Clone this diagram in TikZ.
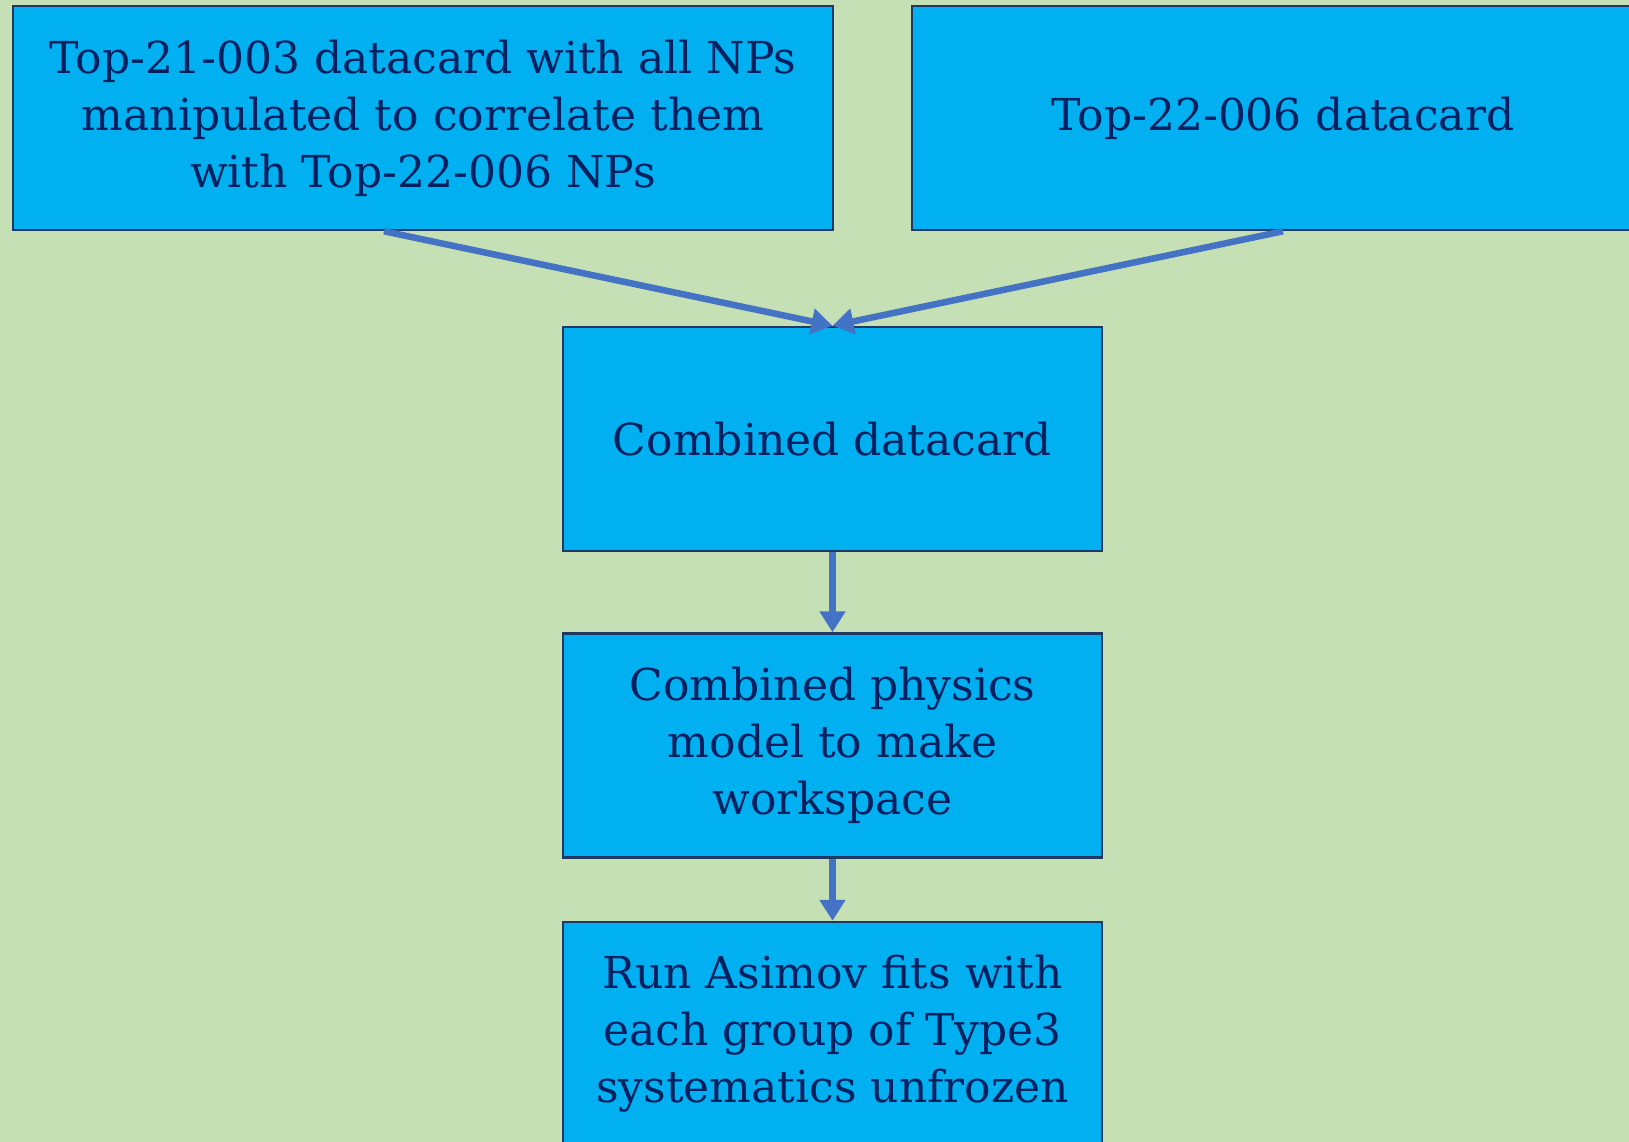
\documentclass[tikz,border=0pt]{standalone}
\usepackage{fontspec}
\setmainfont{DejaVu Serif}
\usetikzlibrary{shapes, arrows.meta, positioning}

\definecolor{bggreen}{HTML}{C5E0B4}
\definecolor{boxblue}{HTML}{00B0F0}
\definecolor{boxline}{HTML}{1F3864}
\definecolor{textnavy}{HTML}{002060}
\definecolor{arrowblue}{HTML}{4472C4}

\begin{document}
\begin{tikzpicture}[x=1pt, y=-1pt, node distance=80pt, auto]
\tikzset{
    flowbox/.style={rectangle, draw=boxline, fill=boxblue, line width=2.5pt, text=textnavy, minimum height=224pt, inner sep=0pt, align=center, font=\fontsize{44}{57}\selectfont},
    flowarrow/.style={-{Triangle[length=21pt,width=25pt]}, draw=arrowblue, line width=6.5pt}
}
\fill[bggreen] (0,0) rectangle (1629,1142);
\useasboundingbox (0,0) rectangle (1629,1142);
\node[flowbox, minimum width=820pt] (top21) at (423,118) {Top-21-003 datacard with all NPs\\manipulated to correlate them\\with Top-22-006 NPs};
\node[flowbox, minimum width=742pt] (top22) at (1283,118) {Top-22-006 datacard};
\node[flowbox, minimum width=539pt] (comb) at (832.5,439) {Combined datacard};
\node[flowbox, minimum width=539pt, below=80pt of comb] (phys) {Combined physics\\model to make\\workspace};
\node[flowbox, minimum width=539pt, below=62pt of phys] (run) {Run Asimov fits with\\each group of Type3\\systematics unfrozen};
\draw[flowarrow] ([xshift=-39pt]top21.south) -- (comb.north);
\draw[flowarrow] (top22.south) -- (comb.north);
\draw[flowarrow] (comb) -- (phys);
\draw[flowarrow] (phys) -- (run);
\end{tikzpicture}
\end{document}
